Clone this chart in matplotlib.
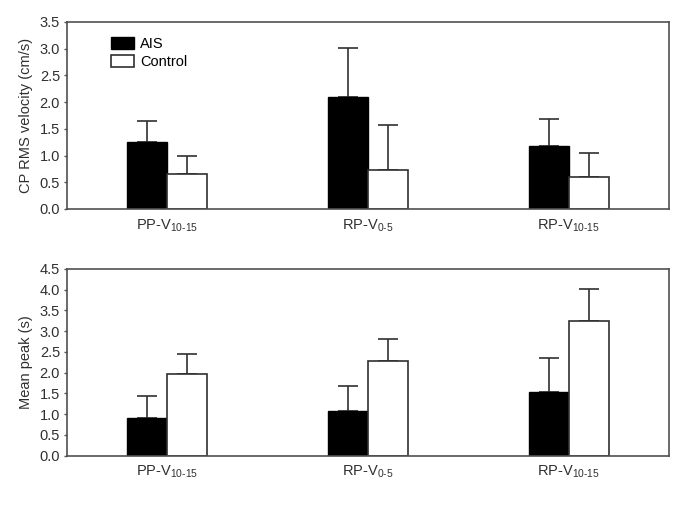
import matplotlib
matplotlib.use("Agg")
import matplotlib.pyplot as plt
import numpy as np

plt.rcParams['font.family'] = ['Liberation Sans', 'DejaVu Sans']
plt.rcParams['mathtext.default'] = 'regular'

categories = ["PP-V$_{10\u201015}$", "RP-V$_{0\u20105}$", "RP-V$_{10\u201015}$"]
series_names = ["AIS", "Control"]

rms_ais = [1.25, 2.10, 1.18]
rms_ais_err = [0.40, 0.92, 0.50]
rms_ctrl = [0.655, 0.73, 0.605]
rms_ctrl_err = [0.335, 0.84, 0.445]

peak_ais = [0.92, 1.085, 1.53]
peak_ais_err = [0.52, 0.585, 0.83]
peak_ctrl = [1.96, 2.28, 3.25]
peak_ctrl_err = [0.48, 0.53, 0.77]

fig = plt.figure(figsize=(6.85, 5.14), dpi=100)
ax1 = fig.add_axes([0.0978, 0.5934, 0.8788, 0.3638])
ax2 = fig.add_axes([0.0978, 0.1134, 0.8788, 0.3633])

x = np.arange(len(categories))
w = 0.2
edge = '#505050'
fs = 10.5

def draw(ax, a, ae, c, ce, ymax, ylabel, legend=False):
    ax.bar(x - w/2, a, w, color='black', edgecolor='black', linewidth=1, label=series_names[0], zorder=2)
    ax.bar(x + w/2, c, w, color='white', edgecolor='#303030', linewidth=1.2, label=series_names[1], zorder=2)
    ax.errorbar(x - w/2, a, yerr=[np.zeros(3), ae], fmt='none', ecolor='#303030', elinewidth=1.2, capsize=7.2, capthick=1.2, zorder=1)
    ax.errorbar(x + w/2, c, yerr=[np.zeros(3), ce], fmt='none', ecolor='#303030', elinewidth=1.2, capsize=7.2, capthick=1.2, zorder=1)
    ax.set_xlim(-0.5, 2.5)
    ax.set_ylim(0, ymax)
    ticks = np.arange(0, ymax + 0.01, 0.5)
    ax.set_yticks(ticks)
    ax.set_yticklabels([f"{v:.1f}" for v in ticks])
    ax.set_xticks(x)
    ax.set_xticklabels(categories)
    ax.tick_params(axis='x', length=0, pad=6, labelsize=fs, colors='#303030')
    ax.tick_params(axis='y', length=2, width=1, direction='out', pad=3, labelsize=fs, colors='#505050', labelcolor='#303030')
    for s in ax.spines.values():
        s.set_color(edge)
        s.set_linewidth(1.2)
    ax.set_ylabel(ylabel, fontsize=fs, color='#303030', labelpad=5)
    if legend:
        ax.legend(loc='upper left', bbox_to_anchor=(0.073, 0.92), frameon=False, fontsize=fs,
                  handlelength=1.55, handleheight=0.9, handletextpad=0.45, labelspacing=0.28, borderpad=0,
                  borderaxespad=0)

draw(ax1, rms_ais, rms_ais_err, rms_ctrl, rms_ctrl_err, 3.5, "CP RMS velocity (cm/s)", legend=True)
draw(ax2, peak_ais, peak_ais_err, peak_ctrl, peak_ctrl_err, 4.5, "Mean peak (s)")

fig.savefig("out.png", dpi=100)
